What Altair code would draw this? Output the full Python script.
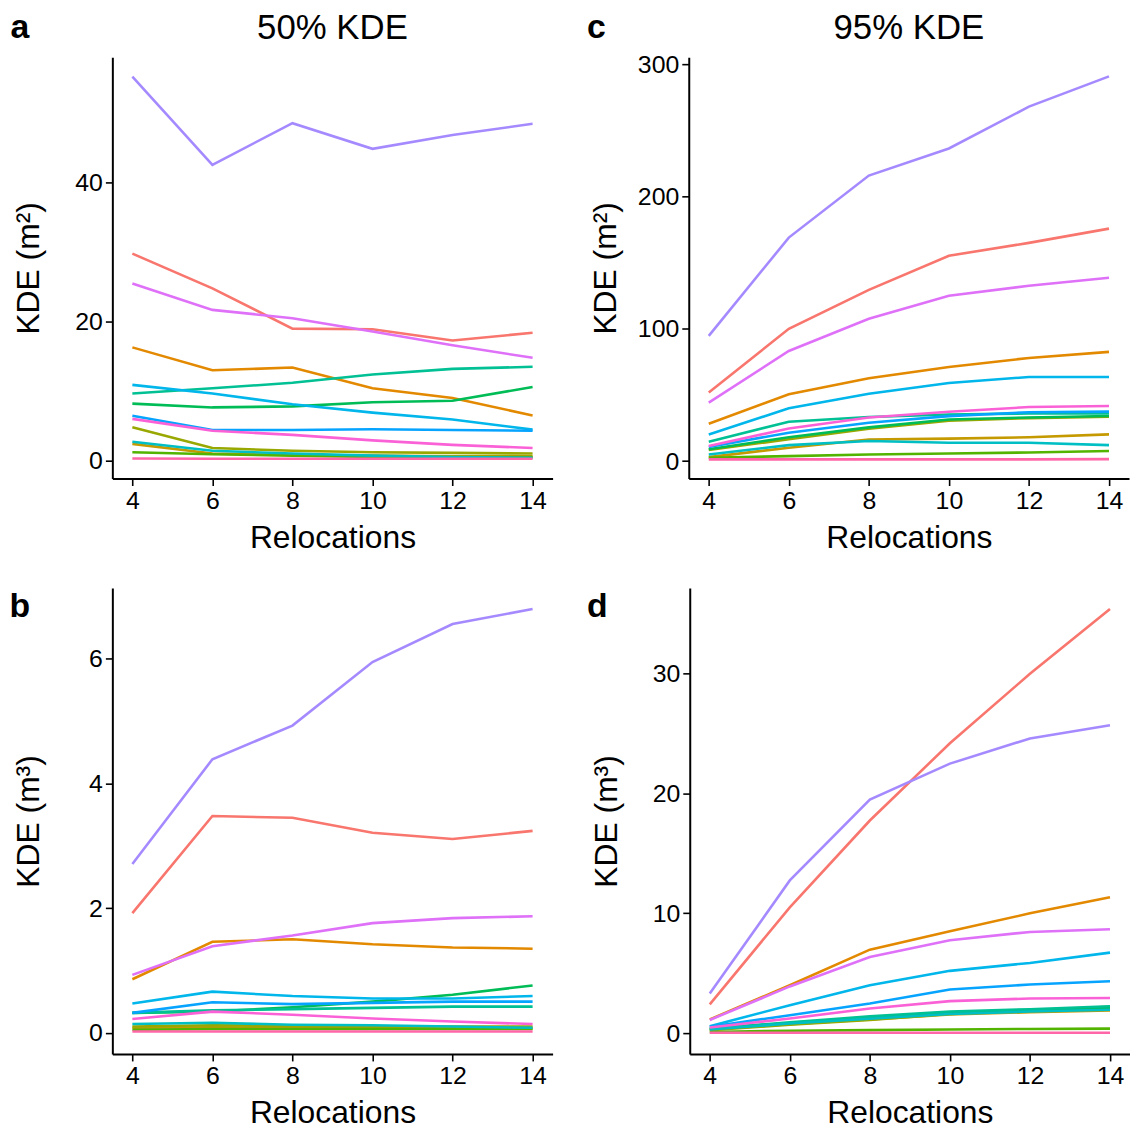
import altair as alt
import pandas as pd

RELOC = [4, 6, 8, 10, 12, 14]

SERIES = ["s01", "s02", "s03", "s04", "s05", "s06", "s07",
          "s08", "s09", "s10", "s11", "s12", "s13", "s14"]
COLORS = ["#F8766D", "#E38900", "#C49A00", "#99A800", "#53B400", "#00BC56", "#00C094",
          "#00BFC4", "#00B6EB", "#06A4FF", "#A58AFF", "#DF70F8", "#FB61D7", "#FF66A8"]

# Panel a: 50% KDE (m2)
A_S01 = [29.8, 24.8, 19.0, 18.9, 17.3, 18.4]
A_S02 = [16.3, 13.0, 13.4, 10.4, 9.0, 6.5]
A_S03 = [2.4, 1.0, 0.8, 0.7, 0.6, 0.6]
A_S04 = [4.8, 1.8, 1.4, 1.2, 1.1, 1.0]
A_S05 = [1.2, 0.9, 0.7, 0.5, 0.5, 0.5]
A_S06 = [8.2, 7.65, 7.8, 8.4, 8.6, 10.6]
A_S07 = [9.65, 10.4, 11.2, 12.4, 13.2, 13.5]
A_S08 = [2.7, 1.4, 1.0, 0.7, 0.5, 0.4]
A_S09 = [10.9, 9.65, 8.1, 6.9, 5.9, 4.45]
A_S10 = [6.45, 4.4, 4.4, 4.5, 4.4, 4.3]
A_S11 = [55.3, 42.6, 48.6, 44.9, 46.9, 48.5]
A_S12 = [25.5, 21.7, 20.5, 18.6, 16.6, 14.8]
A_S13 = [6.0, 4.3, 3.7, 2.9, 2.25, 1.8]
A_S14 = [0.3, 0.25, 0.25, 0.25, 0.25, 0.25]

# Panel b: 50% KDE (m3)
B_S01 = [1.92, 3.48, 3.45, 3.21, 3.11, 3.24]
B_S02 = [0.86, 1.46, 1.50, 1.42, 1.37, 1.35]
B_S03 = [0.08, 0.09, 0.08, 0.08, 0.07, 0.07]
B_S04 = [0.10, 0.12, 0.11, 0.10, 0.10, 0.10]
B_S05 = [0.05, 0.06, 0.06, 0.06, 0.06, 0.06]
B_S06 = [0.32, 0.34, 0.41, 0.50, 0.61, 0.76]
B_S07 = [0.32, 0.36, 0.38, 0.40, 0.42, 0.42]
B_S08 = [0.14, 0.16, 0.13, 0.12, 0.10, 0.08]
B_S09 = [0.47, 0.66, 0.59, 0.55, 0.55, 0.59]
B_S10 = [0.32, 0.49, 0.46, 0.48, 0.50, 0.50]
B_S11 = [2.71, 4.39, 4.93, 5.95, 6.56, 6.80]
B_S12 = [0.93, 1.39, 1.56, 1.76, 1.84, 1.87]
B_S13 = [0.22, 0.34, 0.29, 0.23, 0.18, 0.14]
B_S14 = [0.02, 0.02, 0.02, 0.02, 0.02, 0.02]

# Panel c: 95% KDE (m2)
C_S01 = [51.8, 100.0, 129.5, 155.3, 165.0, 175.8]
C_S02 = [28.3, 50.5, 62.6, 71.2, 78.0, 82.6]
C_S03 = [3.0, 10.1, 16.4, 17.0, 18.0, 20.2]
C_S04 = [8.5, 16.5, 24.5, 30.5, 32.5, 33.5]
C_S05 = [2.5, 3.8, 5.0, 5.8, 6.5, 7.6]
C_S06 = [9.0, 18.0, 25.5, 31.5, 33.0, 34.1]
C_S07 = [14.6, 29.8, 33.3, 35.3, 36.0, 36.1]
C_S08 = [5.0, 12.1, 15.2, 13.9, 13.9, 12.1]
C_S09 = [20.2, 39.9, 51.0, 59.0, 63.6, 63.6]
C_S10 = [10.6, 21.5, 29.0, 34.0, 37.0, 37.4]
C_S11 = [94.7, 169.0, 215.9, 236.4, 268.0, 290.9]
C_S12 = [44.2, 83.3, 107.6, 125.0, 132.6, 138.6]
C_S13 = [11.4, 24.7, 33.0, 37.3, 40.9, 41.7]
C_S14 = [1.3, 1.3, 1.3, 1.3, 1.3, 1.5]

# Panel d: 95% KDE (m3)
D_S01 = [2.4, 10.5, 17.75, 24.2, 30.0, 35.4]
D_S02 = [1.14, 4.0, 6.97, 8.5, 10.0, 11.35]
D_S03 = [0.3, 0.75, 1.15, 1.55, 1.75, 1.9]
D_S04 = [0.25, 0.7, 1.1, 1.6, 1.9, 2.2]
D_S05 = [0.1, 0.2, 0.25, 0.3, 0.35, 0.38]
D_S06 = [0.35, 0.85, 1.3, 1.7, 1.9, 2.1]
D_S07 = [0.4, 0.9, 1.4, 1.8, 2.0, 2.25]
D_S08 = [0.3, 0.8, 1.2, 1.6, 1.8, 1.95]
D_S09 = [0.58, 2.33, 4.0, 5.2, 5.86, 6.72]
D_S10 = [0.53, 1.5, 2.47, 3.64, 4.06, 4.33]
D_S11 = [3.3, 12.75, 19.5, 22.5, 24.6, 25.7]
D_S12 = [1.1, 3.9, 6.36, 7.75, 8.45, 8.67]
D_S13 = [0.47, 1.22, 2.05, 2.67, 2.89, 2.94]
D_S14 = [0.03, 0.03, 0.03, 0.03, 0.03, 0.03]

PANEL_A = [A_S01, A_S02, A_S03, A_S04, A_S05, A_S06, A_S07, A_S08, A_S09, A_S10, A_S11, A_S12, A_S13, A_S14]
PANEL_B = [B_S01, B_S02, B_S03, B_S04, B_S05, B_S06, B_S07, B_S08, B_S09, B_S10, B_S11, B_S12, B_S13, B_S14]
PANEL_C = [C_S01, C_S02, C_S03, C_S04, C_S05, C_S06, C_S07, C_S08, C_S09, C_S10, C_S11, C_S12, C_S13, C_S14]
PANEL_D = [D_S01, D_S02, D_S03, D_S04, D_S05, D_S06, D_S07, D_S08, D_S09, D_S10, D_S11, D_S12, D_S13, D_S14]

FONT = "Liberation Sans"
W = 443
H_TOP = 424
H_BOT = 469


def long_df(panel):
    rows = []
    for i, (name, vals) in enumerate(zip(SERIES, panel)):
        for x, v in zip(RELOC, vals):
            rows.append({"x": x, "v": v, "s": name, "o": i})
    return pd.DataFrame(rows)


def make_panel(panel, ydom, yticks, ytitle, letter, height, title=None):
    df = long_df(panel)
    lines = alt.Chart(df).mark_line(strokeWidth=2.6).encode(
        x=alt.X("x:Q",
                scale=alt.Scale(domain=[3.5, 14.5], nice=False, zero=False),
                axis=alt.Axis(values=RELOC, title="Relocations")),
        y=alt.Y("v:Q",
                scale=alt.Scale(domain=ydom, nice=False, zero=False),
                axis=alt.Axis(values=yticks, title=ytitle)),
        color=alt.Color("s:N", scale=alt.Scale(domain=SERIES, range=COLORS), legend=None),
        order=alt.Order("o:Q"),
    )
    layers = [lines]
    lab = alt.Chart(pd.DataFrame({"t": [letter]})).mark_text(
        font=FONT, fontSize=34, fontWeight="bold", align="center", baseline="alphabetic", color="black"
    ).encode(text="t:N", x=alt.value(-93), y=alt.value(-19 if title else 29))
    layers.append(lab)
    if title:
        tt = alt.Chart(pd.DataFrame({"t": [title]})).mark_text(
            font=FONT, fontSize=35, align="center", baseline="alphabetic", color="black"
        ).encode(text="t:N", x=alt.value(W / 2), y=alt.value(-18))
        layers.append(tt)
    return alt.layer(*layers).properties(width=W, height=height)


pa = make_panel(PANEL_A, [-2.6, 58.1], [0, 20, 40], "KDE (m²)", "a", H_TOP, "50% KDE")
pc = make_panel(PANEL_C, [-13.2, 305.4], [0, 100, 200, 300], "KDE (m²)", "c", H_TOP, "95% KDE")
pb = make_panel(PANEL_B, [-0.34, 7.14], [0, 2, 4, 6], "KDE (m³)", "b", H_BOT)
pd_ = make_panel(PANEL_D, [-1.74, 37.17], [0, 10, 20, 30], "KDE (m³)", "d", H_BOT)

chart = alt.vconcat(
    alt.hconcat(pa, pc, spacing=34),
    alt.hconcat(pb, pd_, spacing=34),
    spacing=35,
).properties(
    padding={"left": 1, "top": 0, "right": 0, "bottom": 0}
).configure_view(
    stroke=None
).configure_axis(
    grid=False,
    domainColor="black",
    domainWidth=2,
    tickColor="black",
    tickWidth=1.6,
    tickSize=7,
    labelFont=FONT,
    labelFontSize=25,
    labelColor="black",
    labelPadding=3,
    titleFont=FONT,
    titleFontSize=32,
    titleFontWeight="normal",
    titleColor="black",
    labelFlush=False,
    labelOverlap=False,
).configure_axisX(
    titlePadding=9,
).configure_axisY(
    minExtent=54,
    maxExtent=54,
    titlePadding=13,
)

chart.save("out.html", embed_options={"renderer": "svg", "actions": False})
